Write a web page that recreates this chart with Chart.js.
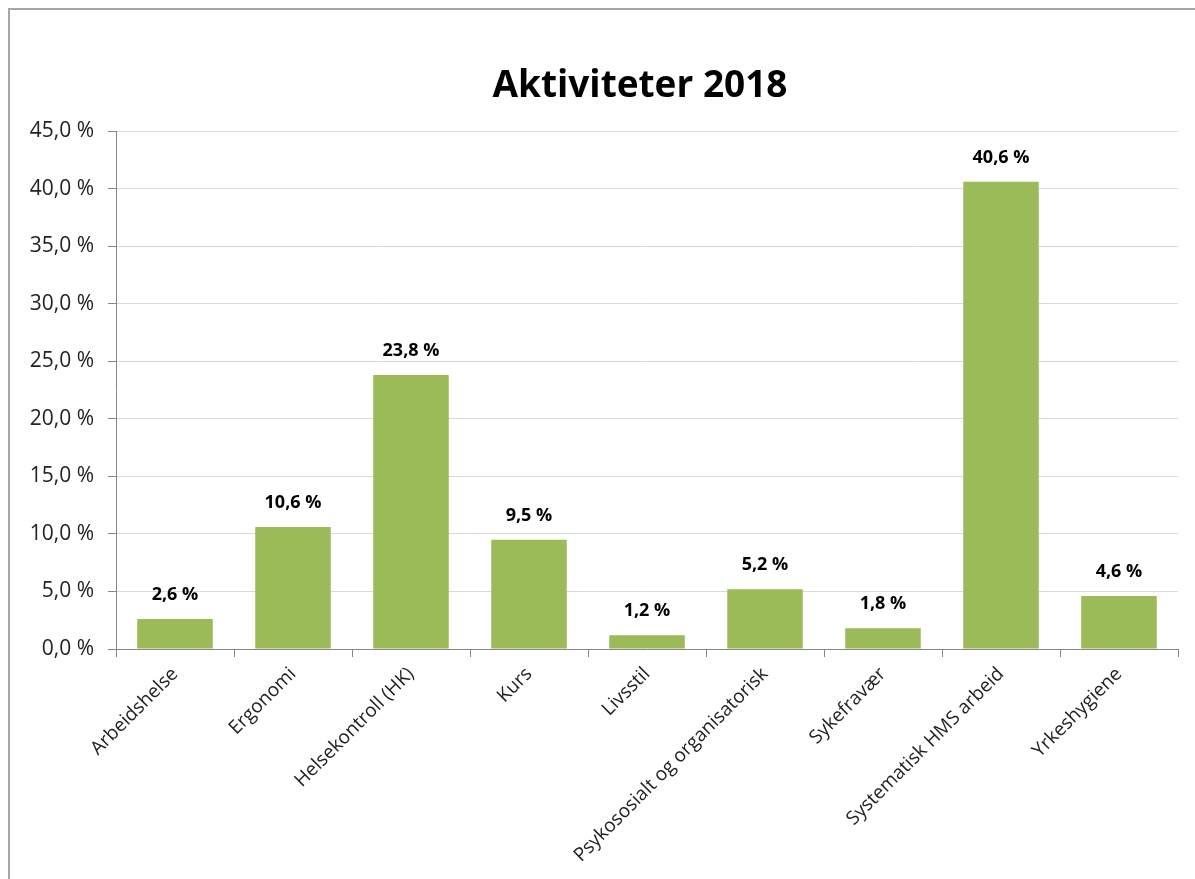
<!DOCTYPE html>
<html>
<head>
<meta charset="utf-8">
<script src="https://cdn.jsdelivr.net/npm/chart.js@4.4.1/dist/chart.umd.min.js"></script>
<style>
  body { margin: 0; background: #fff; }
  #frame {
    position: absolute; left: 8px; top: 8px; width: 1300px; height: 1000px;
    border-left: 2px solid #a6a6a6; border-top: 2px solid #a6a6a6;
  }
  #wrap { position: absolute; left: 0; top: 0; width: 1195px; height: 879px; }
</style>
</head>
<body>
<div id="frame"></div>
<div id="wrap"><canvas id="chart"></canvas></div>
<script>
const chartTitle = 'Aktiviteter 2018';
const categories = ["Arbeidshelse", "Ergonomi", "Helsekontroll (HK)", "Kurs", "Livsstil",
  "Psykososialt og organisatorisk", "Sykefravær", "Systematisk HMS arbeid", "Yrkeshygiene"];
const shares = [2.6, 10.6, 23.8, 9.5, 1.2, 5.2, 1.8, 40.6, 4.6];
const yTicks = [0, 5, 10, 15, 20, 25, 30, 35, 40, 45];

function pct(v) {
  return v.toFixed(1).replace('.', ',') + ' %';
}

// value labels above each bar + the title (the original chart is centred wider than the crop)
const valueLabels = {
  id: 'valueLabels',
  afterDatasetsDraw(chart) {
    const ctx = chart.ctx;
    const meta = chart.getDatasetMeta(0);
    ctx.save();
    ctx.font = "bold 18px 'Open Sans'";
    ctx.fillStyle = '#000';
    ctx.textAlign = 'center';
    ctx.textBaseline = 'bottom';
    meta.data.forEach((bar, i) => {
      ctx.fillText(pct(shares[i]), bar.x, bar.y - 15);
    });
    ctx.font = "bold 37px 'Open Sans'";
    ctx.textBaseline = 'middle';
    ctx.fillText(chartTitle, 640, 86);
    ctx.restore();
  }
};

const ctx = document.getElementById('chart').getContext('2d');
new Chart(ctx, {
  type: 'bar',
  data: {
    labels: categories,
    datasets: [{
      data: shares,
      backgroundColor: '#9bbb59',
      barPercentage: 0.64,
      categoryPercentage: 1.0
    }]
  },
  options: {
    responsive: true,
    maintainAspectRatio: false,
    animation: false,
    layout: { padding: { left: 14, right: 17, top: 131, bottom: 0 } },
    plugins: {
      legend: { display: false },
      tooltip: { enabled: false },
      title: { display: false }
    },
    scales: {
      y: {
        min: 0,
        max: 45,
        afterBuildTicks(axis) {
          axis.ticks = yTicks.map(v => ({ value: v }));
        },
        afterFit(axis) { axis.width = 102; },
        ticks: {
          callback: v => pct(v),
          color: '#222',
          font: { family: 'Open Sans', size: 21 },
          padding: 14
        },
        grid: { color: '#d9d9d9', tickColor: '#868686', tickLength: 8 },
        border: { color: '#868686' }
      },
      x: {
        afterFit(axis) { axis.height = 230; },
        ticks: {
          color: '#222',
          font: { family: 'Open Sans', size: 19 },
          minRotation: 45,
          maxRotation: 45,
          padding: 6
        },
        grid: { drawOnChartArea: false, tickColor: '#868686', tickLength: 8, offset: true },
        border: { color: '#868686' }
      }
    }
  },
  plugins: [valueLabels]
});
</script>
</body>
</html>
